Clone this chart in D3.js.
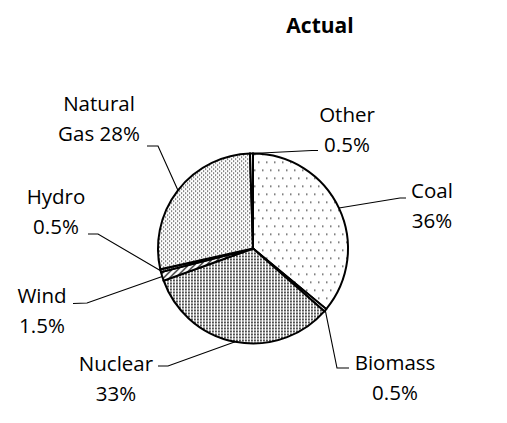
<!DOCTYPE html>
<html>
<head>
<meta charset="utf-8">
<script src="https://cdn.jsdelivr.net/npm/d3@7"></script>
<style>
  html, body { margin: 0; padding: 0; background: #fff; }
  svg { display: block; }
</style>
</head>
<body>
<svg id="chart" width="507" height="423"></svg>
<script>
// ---- data ----
const title = "Actual";
const categories = ["Coal", "Biomass", "Nuclear", "Wind", "Hydro", "Natural Gas", "Other"];
const values = [36, 0.5, 33, 1.5, 0.5, 28, 0.5];
const labelFirstLines = ["Coal", "Biomass", "Nuclear", "Wind", "Hydro", "Natural", "Other"];
const labelSecondPrefixes = ["", "", "", "", "", "Gas ", ""];

// ---- layout (positions / styles, kept apart from the data) ----
const W = 507, H = 423;
const cx = 253, cy = 248.5, R = 95;
const lineGap = 30;
const labelLayout = [
  { x: 432, y: 198,   start: [406, 198],   elbow: [400, 198] },   // Coal
  { x: 395, y: 370,   start: [349, 368],   elbow: [337, 368] },   // Biomass
  { x: 116, y: 371,   start: [158, 366],   elbow: [168, 366] },   // Nuclear
  { x: 42,  y: 303,   start: [73, 303.5],  elbow: [87, 303] },    // Wind
  { x: 56,  y: 203.5, start: [88, 234],    elbow: [98, 234] },    // Hydro
  { x: 99,  y: 111,   start: [147, 146],   elbow: [158, 146] },   // Natural Gas
  { x: 347, y: 121.5, start: [318, 150.5], elbow: [312, 150.5] }  // Other
];
const fills = ["url(#pCoal)", "#ffffff", "url(#pNuclear)", "url(#pWind)", "url(#pHydro)", "url(#pGas)", "#ffffff"];
const FONT = "'Open Sans', 'Noto Sans', sans-serif";

const svg = d3.select("#chart");
svg.append("rect").attr("width", W).attr("height", H).attr("fill", "#fff");

// ---- patterns ----
const defs = svg.append("defs");
function dotPattern(id, w, h, dots, dotSize, color) {
  const p = defs.append("pattern").attr("id", id)
    .attr("patternUnits", "userSpaceOnUse")
    .attr("width", w).attr("height", h);
  p.append("rect").attr("width", w).attr("height", h).attr("fill", "#fff");
  dots.forEach(([x, y]) => p.append("rect").attr("x", x).attr("y", y)
    .attr("width", dotSize).attr("height", dotSize).attr("fill", color));
}
dotPattern("pCoal", 8, 16, [[1, 1], [5, 9]], 1.5, "#555");
dotPattern("pGas", 4, 4, [[0, 0], [2, 2]], 1.2, "#333");
dotPattern("pNuclear", 3, 3, [[1, 1]], 1.9, "#444");
dotPattern("pHydro", 2, 2, [[0, 0]], 1.5, "#222");
(function () {
  const p = defs.append("pattern").attr("id", "pWind")
    .attr("patternUnits", "userSpaceOnUse").attr("width", 6).attr("height", 6);
  p.append("rect").attr("width", 6).attr("height", 6).attr("fill", "#fff");
  p.append("path").attr("d", "M0,6 L6,0 M-1,1 L1,-1 M5,7 L7,5")
    .attr("stroke", "#000").attr("stroke-width", 1.2);
})();

// ---- pie ----
const pie = d3.pie().sort(null).value(d => d).startAngle(0).endAngle(2 * Math.PI);
const arcs = pie(values);
const arc = d3.arc().innerRadius(0).outerRadius(R);
const edgeArc = d3.arc().innerRadius(R).outerRadius(R);

const g = svg.append("g").attr("transform", `translate(${cx},${cy})`);
g.selectAll("path.slice").data(arcs).enter().append("path")
  .attr("class", "slice")
  .attr("d", arc)
  .attr("fill", (d, i) => fills[i])
  .attr("stroke", "#000")
  .attr("stroke-width", 2)
  .attr("stroke-linejoin", "miter");

// ---- leader lines ----
const leaders = svg.append("g");
arcs.forEach((d, i) => {
  const [ex, ey] = edgeArc.centroid(d);
  const L = labelLayout[i];
  leaders.append("path")
    .attr("d", d3.line()([L.start, L.elbow, [cx + ex, cy + ey]]))
    .attr("fill", "none").attr("stroke", "#000").attr("stroke-width", 1.1);
});

// ---- labels ----
const labels = svg.append("g")
  .attr("font-family", FONT).attr("font-size", 20.5).attr("fill", "#000")
  .attr("text-anchor", "middle");
arcs.forEach((d, i) => {
  const L = labelLayout[i];
  const t = labels.append("text").attr("x", L.x).attr("y", L.y);
  t.append("tspan").attr("x", L.x).attr("y", L.y).text(labelFirstLines[i]);
  t.append("tspan").attr("x", L.x).attr("y", L.y + lineGap)
    .text(labelSecondPrefixes[i] + values[i] + "%");
});

// ---- title ----
svg.append("text").attr("x", 320).attr("y", 32.5)
  .attr("text-anchor", "middle").attr("font-family", FONT)
  .attr("font-weight", "bold").attr("font-size", 21).text(title);
</script>
</body>
</html>
